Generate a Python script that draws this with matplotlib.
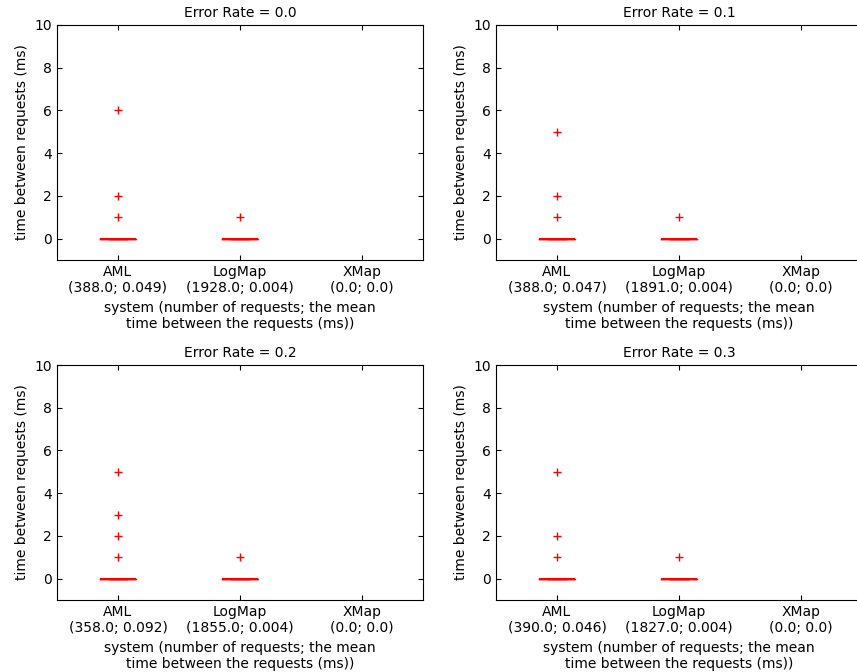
import matplotlib
matplotlib.use('Agg')
import matplotlib.pyplot as plt

error_rates = [0.0, 0.1, 0.2, 0.3]
systems = ['AML', 'LogMap', 'XMap']

# (number of requests, mean time between requests) per system
n_requests = [
    [388.0, 1928.0, 0.0],
    [388.0, 1891.0, 0.0],
    [358.0, 1855.0, 0.0],
    [390.0, 1827.0, 0.0],
]
mean_times = [
    [0.049, 0.004, 0.0],
    [0.047, 0.004, 0.0],
    [0.092, 0.004, 0.0],
    [0.046, 0.004, 0.0],
]

# outlier values (ms) seen for AML and LogMap; quartiles/median are all 0
aml_fliers = [[1, 2, 6], [1, 2, 5], [1, 2, 3, 5], [1, 2, 5]]
logmap_fliers = [[1], [1], [1], [1]]

plt.rcParams['font.size'] = 10
plt.rcParams['xtick.direction'] = 'in'
plt.rcParams['ytick.direction'] = 'in'
plt.rcParams['xtick.top'] = True
plt.rcParams['ytick.right'] = True

fig = plt.figure(figsize=(8.57, 6.72), dpi=100)

W, H = 857.0, 672.0
boxes = [(57, 25), (496, 25), (57, 365), (496, 365)]
aw, ah = 366, 235

for i, er in enumerate(error_rates):
    x0, y0 = boxes[i]
    ax = fig.add_axes([x0 / W, 1 - (y0 + ah) / H, aw / W, ah / H])

    stats = []
    for fl in (aml_fliers[i], logmap_fliers[i]):
        stats.append(dict(med=0, q1=0, q3=0, whislo=0, whishi=0, fliers=fl))

    # all quartiles sit at 0, so only the red median line shows
    ax.bxp(stats, positions=[1, 2], widths=0.3,
           boxprops=dict(color='red'),
           whiskerprops=dict(color='red'),
           capprops=dict(color='red'),
           medianprops=dict(color='red', linewidth=1.5),
           flierprops=dict(marker='+', markeredgecolor='red',
                           markerfacecolor='none', markersize=6, linestyle='none'))

    labels = ['%s\n(%s; %s)' % (s, n, m) for s, n, m in zip(systems, n_requests[i], mean_times[i])]
    ax.set_xticks([1, 2, 3])
    ax.set_xticklabels(labels)
    ax.set_xlim(0.5, 3.5)
    ax.set_ylim(-1, 10)
    ax.set_yticks([0, 2, 4, 6, 8, 10])
    ax.set_title('Error Rate = %s' % er, fontsize=10)
    ax.set_ylabel('time between requests (ms)')
    ax.set_xlabel('system (number of requests; the mean\ntime between the requests (ms))')
    if i % 2 == 1:
        # original image was cropped through the right-hand panels
        ax.spines['right'].set_visible(False)

plt.savefig('out.png', dpi=100)
